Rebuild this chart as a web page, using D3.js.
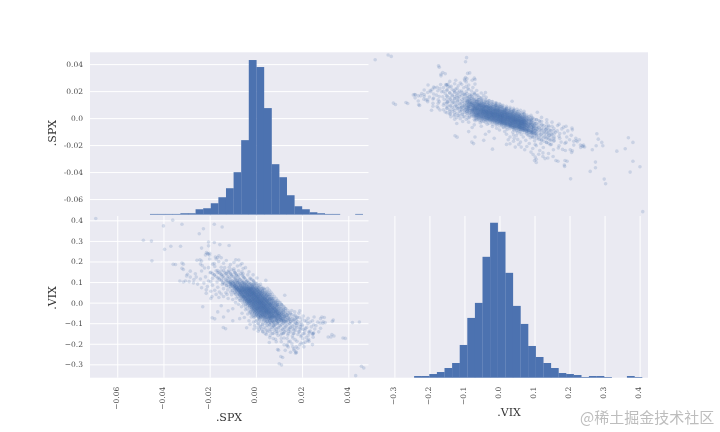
<!DOCTYPE html>
<html><head><meta charset="utf-8">
<script src="https://cdn.jsdelivr.net/npm/d3@7/dist/d3.min.js"></script>
<style>html,body{margin:0;padding:0;background:#fff}svg{display:block;filter:blur(0.3px)}text{font-family:"DejaVu Serif",serif}</style>
</head><body><svg id="c" width="720" height="432"></svg>
<script>
// Tick values and the labels as printed on the chart
const spxTicks=[-0.06,-0.04,-0.02,0,0.02,0.04];
const spxRowLabels=["-0.06","-0.04","-0.02","0.0","0.02","0.04"];
const spxColLabels=["\u22120.06","\u22120.04","\u22120.02","0.00","0.02","0.04"];
const vixTicks=[-0.3,-0.2,-0.1,0,0.1,0.2,0.3,0.4];
const vixLabels=["\u22120.3","\u22120.2","\u22120.1","0.0","0.1","0.2","0.3","0.4"];
// Histogram counts, 35 bins each
const spxCounts=[0,0,0,0,0,0,0,2,2,2,2,4,4,16,19,34,52,79,127,223,463,442,319,151,112,58,25,16,7,4,2,2,0,0,2];
const vixCounts=[0,0,0,0,0,5,5,11,17,29,44,98,179,224,362,464,437,314,215,161,95,62,44,29,14,11,8,2,5,5,2,0,0,5,2];
const spxBinStart=-0.06887, spxBinWidth=0.00329;
const vixBinStart=-0.3523, vixBinWidth=0.0217;
// Outlying pairs: [.SPX in basis points, .VIX in thousandths]
const outliers=[[-693,409],[-116,278],[-156,282],[-180,292],[-205,295],[-205,276],[-235,265],[-146,368],[-180,381],[-227,359],[-245,335],[-320,381],[-360,401],[-400,373],[-326,274],[-368,274],[-395,259],[-452,299],[-487,303],[-450,203],[-314,187],[-348,185],[-314,161],[-314,100],[432,-355],[467,-318],[457,-309],[448,-94],[418,-97],[377,-172],[329,-155],[313,-167],[331,-91],[300,-97],[278,-99],[286,-70],[280,-78],[245,-204],[231,-147],[196,-196],[173,-240],[165,-232],[127,-232],[94,-228],[101,-297],[108,-262],[135,-210],[58,-194],[10,-139],[-141,-121],[-189,-74],[125,36],[43,108],[-87,208],[-210,239],[-214,243],[-206,236],[-218,232],[-255,206],[-240,188],[-232,180],[-200,212],[-175,222],[-160,228],[-150,218],[-178,176],[111,-303],[116,-267],[98,-231],[172,-246],[150,-241],[165,-225],[338,-162],[387,-174],[325,-167],[247,-150],[250,-147],[244,-152],[248,-153],[296,-72],[291,-93],[335,-85],[290,-100],[-131,-127],[-178,-79],[-74,207],[-67,183],[-55,166],[-166,219],[-172,212],[-200,231],[-200,240],[-161,200],[-187,187],[-235,202],[-242,208],[-222,168],[-235,154],[-284,153],[-284,124],[-289,102],[-305,105],[-329,105],[-320,193],[-320,167],[-358,186],[-300,130],[-268,112],[-262,140],[-296,138],[-270,96],[-252,90],[-258,124],[175,-242],[208,-215],[190,-205],[175,-215],[156,-200],[142,-190],[214,-192],[228,-178],[203,-176],[198,-160],[160,-172],[226,-160],[178,-188],[122,-205],[140,-216],[88,-190],[75,-175],[-230,-20],[-140,-70],[-120,-40],[-100,-88],[-70,-78],[-60,-52],[-165,-45],[-150,-15],[-190,30],[-215,45],[-195,20],[-100,-30],[-40,-122],[-25,-105],[-10,-95]];
// Halo of the cloud, upper-left arm then lower-right arm
const halo=[[60,-170],[85,-178],[110,-190],[135,-205],[160,-215],[182,-222],[205,-198],[230,-188],[218,-170],[195,-165],[170,-180],[148,-188],[122,-172],[96,-160],[72,-150],[50,-142],[40,-128],[65,-132],[88,-140],[112,-150],[138,-158],[162,-150],[186,-142],[210,-150],[235,-138],[255,-128],[240,-118],[215,-125],[190,-128],[165,-135],[142,-140],[118,-132],[95,-125],[70,-118],[46,-112],[30,-105],[55,-100],[80,-108],[105,-112],[128,-120],[152,-118],[176,-112],[200,-108],[225,-102],[250,-108],[268,-95],[245,-88],[220,-90],[196,-95],[172,-98],[148,-102],[124,-105],[150,-90],[175,-85],[200,-80],[226,-76],[252,-70],[205,-65],[178,-70],[158,-78],[120,-148],[145,-128],[168,-122],[192,-118],[108,-158],[82,-122],[20,-118],[10,-104],[35,-92],[-5,-112],[0,-90],[15,-85],[170,-62],[150,-55],[186,-52],[135,-62],[128,-40],[155,-38],[120,-22],[-20,-70],[-35,-55],[-45,-35],[-50,-72],[-30,-88],[-62,-20],[-75,-8],[-88,0],
[-45,170],[-60,150],[-75,135],[-90,145],[-105,160],[-120,150],[-135,170],[-150,155],[-165,145],[-180,135],[-160,120],[-140,130],[-122,118],[-105,128],[-88,118],[-70,112],[-52,122],[-35,135],[-25,115],[-42,100],[-60,95],[-78,98],[-95,102],[-112,100],[-130,105],[-148,112],[-168,100],[-188,118],[-205,105],[-225,95],[-210,78],[-188,85],[-165,75],[-145,88],[-128,82],[-110,78],[-92,82],[-75,78],[-58,72],[-40,78],[-22,92],[-10,105],[-15,78],[-30,62],[-48,55],[-68,60],[-85,62],[-102,58],[-122,62],[-140,68],[-158,52],[-178,60],[-195,55],[-215,62],[-235,72],[-125,40],[-105,38],[-88,42],[-70,38],[-55,30],[-140,30],[-160,25],[-120,20],[-100,15],[-85,22],[-70,12],[-148,138],[-128,142],[-108,138],[-85,132],[-115,172],[-95,165],[-75,155],[-55,140],[-172,155],[-198,145],[-218,125],[-240,115],[5,120],[20,90],[35,70],[48,50],[60,40],[72,20],[85,5],[95,-10],[110,-8],[60,15],[45,35],[28,55],[10,72],[-5,92],
[-30,150],[-12,135],[0,95],[-80,178],[-110,185],[-140,192],[-60,190],[-95,195],[-128,205],[-180,190],[-205,170],[-150,172],[-195,102],[-130,48],[-110,52],[-95,48],[-150,42],[-172,40],[-90,72],[-108,92],[-125,95],[-142,95],[-82,108],[-65,82],[-50,88],[-35,90],[-20,70],
[140,-75],[165,-82],[188,-72],[212,-88],[235,-95],[260,-112],[280,-125],[272,-142],[248,-168],[225,-185],[205,-130],[182,-155],[158,-162],[135,-175],[110,-175],[90,-150],[62,-160],[45,-155],[30,-140],[15,-130],[5,-122],[-8,-128],[112,-95],[98,-100],[88,-88],[76,-95],[102,-82],[118,-85],[132,-92],[145,-82],[162,-92],[178,-102],[60,-108],[45,-95],[125,-68],[108,-62],[92,-58],[140,-50],[118,-50],[168,-45],[190,-40]];
// Dense centre of the cloud
const core=[[50,-92],[72,-88],[95,-94],[110,-86],[64,-97],[88,-83],[120,-90],[40,-85],[78,-99],[104,-80],[58,-78],[130,-84],[20,-72],[35,-68],[48,-75],[60,-66],[70,-73],[82,-69],[95,-76],[108,-71],[122,-65],[40,-62],[55,-79],[75,-64],[90,-61],[115,-78],[65,-77],[30,-60],[100,-63],[85,-74],[128,-72],[18,-64],
[5,-55],[18,-52],[28,-58],[38,-50],[46,-56],[54,-53],[62,-48],[70,-57],[78,-51],[86,-46],[94,-54],[102,-49],[110,-56],[118,-44],[126,-52],[12,-46],[24,-43],[34,-47],[44,-42],[52,-45],[60,-40],[68,-44],[76,-41],[84,-43],[92,-38],[100,-41],[108,-45],[116,-37],[-4,-48],[-8,-42],[4,-40],[14,-37],[22,-35],[30,-38],[40,-33],[48,-36],[56,-31],[64,-34],[72,-30],[80,-33],[88,-29],[96,-32],[104,-28],[112,-30],[120,-34],[-15,-36],
[-12,-28],[-4,-31],[6,-27],[14,-30],[20,-24],[28,-27],[36,-23],[44,-26],[52,-21],[60,-25],[66,-20],[74,-23],[82,-19],[90,-22],[98,-18],[106,-21],[-20,-24],[-14,-19],[-6,-22],[2,-18],[10,-21],[18,-16],[26,-19],[34,-14],[42,-17],[50,-12],[58,-15],[64,-11],[72,-14],[80,-10],[88,-13],[96,-9],[-26,-14],[-18,-10],[-10,-13],[-2,-9],[6,-12],[14,-8],[22,-11],[30,-6],[38,-9],[46,-5],[54,-8],[62,-4],[70,-7],[78,-3],[86,-6],[92,-2],[-30,-6],
[-36,0],[-28,3],[-20,-1],[-12,2],[-4,-2],[4,1],[12,-3],[20,2],[28,-1],[34,3],[42,0],[50,4],[58,-1],[66,2],[74,5],[82,1],[-40,8],[-32,5],[-24,9],[-16,6],[-8,10],[0,7],[8,11],[16,6],[24,10],[32,8],[40,12],[48,9],[56,13],[64,10],[72,14],[78,9],[-46,16],[-38,13],[-30,17],[-22,14],[-14,18],[-6,15],[2,19],[10,16],[18,20],[26,17],[34,21],[42,18],[50,22],[58,19],[66,21],[-50,24],[-42,21],[-34,25],[-26,22],[-18,26],[-10,23],[-2,27],[6,24],[14,28],[22,25],[30,29],[38,26],[46,30],[54,27],[60,31],
[-58,33],[-50,30],[-42,34],[-34,31],[-26,35],[-18,32],[-10,36],[-2,33],[6,37],[14,34],[22,38],[30,35],[38,39],[46,36],[52,40],[-62,42],[-54,39],[-46,43],[-38,40],[-30,44],[-22,41],[-14,45],[-6,42],[2,46],[10,43],[18,47],[26,44],[34,48],[40,45],[-68,50],[-60,47],[-52,51],[-44,48],[-36,52],[-28,49],[-20,53],[-12,50],[-4,54],[4,51],[12,55],[20,52],[28,56],[-72,58],[-64,55],[-56,59],[-48,56],[-40,60],[-32,57],[-24,61],[-16,58],[-8,62],[0,59],[8,63],[16,60],
[-80,66],[-72,63],[-64,67],[-56,64],[-48,68],[-40,65],[-32,69],[-24,66],[-16,70],[-8,67],[0,71],[-86,74],[-78,71],[-70,75],[-62,72],[-54,76],[-46,73],[-38,77],[-30,74],[-22,78],[-14,75],[-92,84],[-82,81],[-74,85],[-66,82],[-56,86],[-48,83],[-40,87],[-30,84],[-100,94],[-88,91],[-80,96],[-70,92],[-60,98],[-50,94],
[-24,-44],[-18,-52],[-8,-60],[2,-64],[130,-95],[142,-86],[135,-60],[128,-30],[112,-12],[100,2],[90,8],[-44,-8],[-52,6],[-58,18],[-66,30],[-74,42],[-82,56],[-90,68],[-96,78],[-108,88],[44,-72],[28,-80],[14,-75],[60,-90],[76,-110],[92,-104],[-4,-68],[76,20],[68,30],[60,42],[50,54],[38,64],[26,70],[14,76],[6,82],[-8,84],[-18,88],
[24,-6],[16,0],[8,-6],[0,3],[-8,-4],[-16,4],[32,-14],[24,-22],[40,-4],[48,-18],[56,-26],[36,6],[44,14],[28,14],[12,22],[-4,12],[-12,20],[-20,12],[-28,28],[-36,38],[-44,30],[-24,50],[-12,32],[0,38],[8,30],[4,-30],[12,-14],[-2,-16],[36,-30],[44,-38],[52,-30],[60,-12],[68,-2],[20,32],[28,22],[-6,46],[-16,44],[-30,36],[-40,46],[-50,60],[-60,56],[-34,16],[-26,8],[-10,-6],[6,6],[18,10],[30,0],[42,-10],[54,-2],[10,-30],[22,-40],[34,-48],[46,-46],[-2,-36],[16,-22],[28,-34],[40,-22],[52,-38],[64,-46],[76,-50],[88,-38],[70,-32],[82,-26],[94,-12],[-18,40],[-28,58],[-38,68],[-48,76],[-58,80],[-10,52],[2,28],[12,40],[24,8],[38,18],[50,8],[62,16]];
// Densest part and the ring round it, by column: [.VIX in thousandths, [.SPX in basis points...]]
const denseRows=[[-72,[30,42,55,63,71,80,88,97,108]],[-69,[25,38,49,58,66,74,83,92,104]],[-66,[22,33,44,57,61,70,78,89,101]],[-63,[20,31,40,52,60,68,75,86,98]],[-60,[18,28,39,47,56,64,72,81,94,103]],[-57,[15,26,35,46,54,61,69,79,91,100]],[-54,[13,24,32,43,51,59,66,76,87,97]],[-51,[10,21,30,41,49,56,64,73,85,95]],[-48,[9,19,28,38,47,54,61,71,83,92]],[-45,[6,17,25,36,44,52,59,68,80,90]],[-42,[4,14,23,33,41,49,56,66,77,88]],[-39,[2,12,21,31,39,46,54,63,75,86]],[-36,[-1,9,19,28,37,44,51,61,72,83]],[-33,[-3,7,17,26,34,42,49,58,70,80]],[-30,[-5,5,14,24,32,39,47,56,67,78]],[-27,[-8,3,12,21,30,37,44,53,65,76]],[-24,[-10,0,10,19,28,35,42,51,62,73]],[-21,[-12,-2,7,17,25,33,40,48,60,71]],[-18,[-15,-4,5,14,23,30,38,46,57,68]],[-15,[-17,-7,3,12,21,28,35,44,55,66]],[-12,[-19,-9,1,10,18,26,33,41,53,63]],[-9,[-21,-11,-2,8,16,24,31,39,50,61]],[-6,[-24,-14,-4,5,14,21,28,36,47,58]],[-3,[-26,-16,-6,3,12,19,26,34,45,56]],[0,[-28,-18,-8,1,9,17,24,32,43,53]],[3,[-30,-20,-10,-1,7,15,22,29,41,51]],[6,[-33,-23,-12,-3,5,13,19,27,38,49]],[9,[-35,-25,-15,-5,2,10,17,25,36,46]],[12,[-37,-27,-17,-8,0,8,15,22,34,44]],[15,[-40,-29,-19,-10,-2,6,13,20,31,42]],[18,[-42,-32,-22,-12,-5,4,11,18,29,39]],[21,[-44,-34,-24,-14,-7,2,8,15,27,37]],[24,[-46,-36,-26,-17,-9,-1,6,13,24,35]],[27,[-49,-38,-28,-19,-11,-3,4,11,22,32]],[30,[-51,-41,-31,-21,-14,-5,2,9,20,30]],[33,[-53,-43,-33,-24,-16,-7,-1,6,18,28]],[36,[-56,-45,-35,-26,-18,-9,-3,4,15,25]],[39,[-58,-47,-37,-28,-20,-12,-5,2,13,23]],[42,[-60,-50,-40,-30,-23,-14,-7,0,11,21]],[45,[-62,-52,-42,-33,-25,-16,-10,-3,8,19]],[48,[-65,-54,-44,-35,-27,-18,-12,-5,6,16]],[51,[-67,-56,-46,-37,-29,-21,-14,-7,4,14]],[54,[-69,-59,-49,-39,-32,-23,-16,-9,1,12]],[57,[-71,-61,-51,-42,-34,-25,-18,-12,-1,9]],[60,[-74,-63,-53,-44,-36,-28,-21,-14,-3,7]],[63,[-76,-65,-55,-46,-38,-30,-23,-16,-5,5]],[66,[-78,-68,-58,-48,-41,-32,-25,-18,-8,3]],[69,[-80,-70,-60,-51,-43,-34,-27,-20,-10,0]],[72,[-83,-72,-62,-53,-45,-37,-29,-23,-12,-2]],
[-150,[40,75,118,140,165,205]],[-142,[30,62,95,125,150,188,230]],[-135,[48,80,108,130,172,212]],[-128,[25,58,88,115,142,160,195]],[-121,[35,70,98,122,148,178,220]],[-114,[18,52,78,105,132,158,200]],[-107,[28,60,85,112,138,165,190]],[-100,[10,42,68,92,118,145,175]],[-93,[22,50,75,100,122,150,182]],[-86,[5,35,62,86,108,135,160]],[-79,[15,44,70,94,118,144,172]],[-72,[-8,12,135,150,178]],[-65,[-12,8,125,142,165]],[-58,[-18,2,118,135,155]],[-50,[-25,-5,110,128,148]],[-40,[-30,-12,100,118,140]],[-30,[-38,-18,92,108,130]],[-20,[-45,-28,84,100,122]],[-10,[-52,-35,75,92,112]],[0,[-58,-40,68,85,105]],[10,[-66,-48,58,75,95]],[20,[-72,-55,50,68,88]],[30,[-78,-62,42,60,80]],[40,[-85,-70,35,52,72]],[50,[-92,-78,28,44,65]],[60,[-100,-85,20,38,58]],[70,[-108,-92,12,30,50]],[78,[-118,-100,-85,-60,-30,-5,22]],[85,[-125,-105,-88,-65,-42,-15,12]],[92,[-135,-112,-92,-70,-48,-22,5]],[99,[-142,-118,-98,-76,-55,-30,-8]],[106,[-150,-125,-102,-82,-62,-38,-12]],[113,[-158,-130,-108,-88,-68,-45,-18]],[120,[-165,-138,-115,-92,-74,-50,-25]],[127,[-172,-145,-120,-98,-78,-55]],[134,[-180,-150,-125,-104,-84,-60]],[141,[-188,-155,-130,-110,-88,-65]],[148,[-195,-160,-135,-115,-92]],[156,[-165,-140,-118,-95]],
[-90,[60,70,80,90,96,112,128]],[-84,[45,58,72,88,104,118]],[-78,[30,52,66,82,98,112,126]],[-75,[38,60,76,92,108]],[-68,[10,20,112,122]],[-60,[2,12,108,118]],[-52,[-6,4,100,112]],[-44,[-12,-2,94,106]],[-34,[-20,-10,86,98]],[-24,[-28,-18,78,90]],[-14,[-34,-26,72,84]],[-4,[-42,-32,64,76]],[6,[-48,-40,56,68]],[16,[-56,-46,48,60]],[26,[-62,-54,42,54]],[36,[-70,-60,34,46]],[46,[-76,-68,26,38]],[56,[-84,-74,18,30]],[66,[-90,-82,12,24]],[76,[-96,-86,-74,-50,-32,-16,4]],[82,[-102,-92,-78,-58,-38,-20,-4]],[90,[-108,-98,-84,-66,-46,-28,-10]],[96,[-112,-104,-90,-72,-52,-34]],[104,[-118,-110,-94,-78,-58,-40]]];

const points=[...outliers,...halo,...core].map(d=>({spx:d[0]/1e4,vix:d[1]/1e3}))
  .concat(denseRows.flatMap(([v,list])=>list.map(b=>({spx:b/1e4,vix:v/1e3}))));

const xLeft=90,xMid=368.5,xRight=648,yTop=52.3,yMid=215,yBottom=377.7;
const blue="#4c72b0",tickColor="#4a4a4a";
const spxDomain=[-0.0718,0.04875];
const spxX=d3.scaleLinear().domain(spxDomain).range([xLeft,xMid]);
const spxY=d3.scaleLinear().domain(spxDomain).range([yMid,yTop]);
const vixX=d3.scaleLinear().domain([-0.374,0.424]).range([xMid,xRight]);
const vixY=d3.scaleLinear().domain([-0.365,0.426]).range([yBottom,yMid]);
const spxHistY=d3.scaleLinear().domain([0,d3.max(spxCounts)*1.05]).range([yMid-0.4,yTop]);
const vixHistY=d3.scaleLinear().domain([0,d3.max(vixCounts)*1.05]).range([yBottom,yMid]);

const svg=d3.select("#c");
svg.append("rect").attr("x",xLeft).attr("y",yTop).attr("width",xRight-xLeft).attr("height",yBottom-yTop).attr("fill","#eaeaf2");

function styleAxis(g){
  g.select(".domain").remove();
  g.selectAll(".tick line").attr("stroke","#fff").attr("stroke-width",1);
  g.selectAll(".tick text").attr("fill",tickColor).style("font-size","7.5px").style("font-family",'"DejaVu Serif",serif');
}
function leftAxis(scale,values,labels,x,width){
  const g=svg.append("g").attr("transform",`translate(${x},0)`)
    .call(d3.axisLeft(scale).tickValues(values).tickSize(-width).tickPadding(7).tickFormat((d,i)=>labels[i]));
  styleAxis(g);
}
function gridX(scale,values,yFrom,yTo){
  const g=svg.append("g").attr("transform",`translate(0,${yTo})`)
    .call(d3.axisBottom(scale).tickValues(values).tickSize(yFrom-yTo).tickFormat(""));
  styleAxis(g);
}
function labelsX(scale,values,labels){
  const g=svg.append("g").attr("transform",`translate(0,${yBottom})`)
    .call(d3.axisBottom(scale).tickValues(values).tickSize(0).tickFormat((d,i)=>labels[i]));
  styleAxis(g);
  g.selectAll(".tick text").attr("transform","translate(-1.4,9) rotate(-90)").attr("x",0).attr("y",0).attr("dy","0.32em").attr("text-anchor","end");
}
// gridlines + tick labels
leftAxis(spxY,spxTicks,spxRowLabels,xLeft,xMid-xLeft);
leftAxis(vixY,vixTicks,vixLabels,xLeft,xMid-xLeft);
gridX(spxX,spxTicks,yMid+1,yBottom);
gridX(vixX,vixTicks,yMid+1,yBottom);
labelsX(spxX,spxTicks,spxColLabels);
labelsX(vixX,vixTicks,vixLabels);

// histograms
svg.append("g").attr("fill",blue).selectAll("rect").data(spxCounts).join("rect")
  .attr("x",(d,i)=>spxX(spxBinStart+i*spxBinWidth))
  .attr("width",spxX(spxBinWidth)-spxX(0)+0.2)
  .attr("y",d=>spxHistY(d)).attr("height",d=>spxHistY(0)-spxHistY(d));
svg.append("g").attr("fill",blue).selectAll("rect").data(vixCounts).join("rect")
  .attr("x",(d,i)=>vixX(vixBinStart+i*vixBinWidth))
  .attr("width",vixX(vixBinWidth)-vixX(0)+0.2)
  .attr("y",d=>vixHistY(d)).attr("height",d=>vixHistY(0)-vixHistY(d));

// scatter panels
const r=1.8;
svg.append("g").attr("fill",blue).attr("fill-opacity",0.2).selectAll("circle").data(points).join("circle")
  .attr("cx",d=>vixX(d.vix)).attr("cy",d=>spxY(d.spx)).attr("r",r);
svg.append("g").attr("fill",blue).attr("fill-opacity",0.2).selectAll("circle").data(points).join("circle")
  .attr("cx",d=>spxX(d.spx)).attr("cy",d=>vixY(d.vix)).attr("r",r);

// axis titles
function title(x,y,t,rot){
  svg.append("text").attr("text-anchor","middle").attr("fill","#333").style("font-size","11px")
    .attr("transform",`translate(${x},${y})`+(rot?" rotate(-90)":"")).text(t);
}
title(56,133,".SPX",true);
title(56,298,".VIX",true);
title(229,421,".SPX",false);
title(509,416,".VIX",false);

svg.append("text").attr("x",580).attr("y",423).attr("fill","#bdbdbd").style("font-size","15px")
  .style("font-family",'"Noto Sans CJK SC",sans-serif').text("@稀土掘金技术社区");
</script></body></html>
